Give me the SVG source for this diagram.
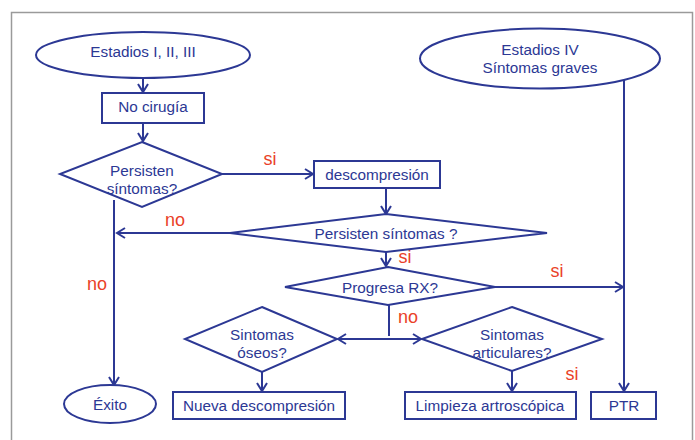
<svg xmlns="http://www.w3.org/2000/svg" width="695" height="440" viewBox="0 0 695 440">
<style>
.s{fill:#fff;stroke:#2c3894;stroke-width:2}
.t{font-family:"Liberation Sans",Arial,sans-serif;font-size:15.3px;fill:#2c3894;text-anchor:middle}
.r{font-family:"Liberation Sans",Arial,sans-serif;font-size:18px;fill:#ea4128;text-anchor:middle}
.c{fill:none;stroke:#2c3894;stroke-width:2}
</style>
<defs>
<marker id="a" markerUnits="userSpaceOnUse" markerWidth="12" markerHeight="14" refX="9" refY="6" orient="auto" viewBox="0 0 12 12">
<path d="M1,1 L9,6 L1,11" fill="none" stroke="#2c3894" stroke-width="2"/>
</marker>
</defs>
<rect x="0" y="0" width="695" height="440" fill="#fff"/>
<rect x="11.5" y="12.5" width="681" height="440" fill="#fff" stroke="#9a9a9a" stroke-width="1.5"/>
<g id="connectors">
<path class="c" d="M143,78 V92" marker-end="url(#a)"/>
<path class="c" d="M143,123 V141" marker-end="url(#a)"/>
<path class="c" d="M222,174 H313" marker-end="url(#a)"/>
<path class="c" d="M386,188 V214" marker-end="url(#a)"/>
<path class="c" d="M230,233 H117" marker-end="url(#a)"/>
<path class="c" d="M114,200 V385" marker-end="url(#a)"/>
<path class="c" d="M386,252 V266" marker-end="url(#a)"/>
<path class="c" d="M495,287 H623" marker-end="url(#a)"/>
<path class="c" d="M624,80 V391" marker-end="url(#a)"/>
<path class="c" d="M389,305 V336"/>
<path class="c" d="M380,339 H338" marker-end="url(#a)"/>
<path class="c" d="M380,339 H421" marker-end="url(#a)"/>
<path class="c" d="M262,372 V391" marker-end="url(#a)"/>
<path class="c" d="M512,371 V391" marker-end="url(#a)"/>
<text class="r" x="270" y="165">si</text>
<text class="r" x="175" y="226">no</text>
<text class="r" x="97" y="290">no</text>
<text class="r" x="405" y="263">si</text>
<text class="r" x="557" y="277">si</text>
<text class="r" x="408" y="323">no</text>
<text class="r" x="572" y="380">si</text>
</g>
<g id="n1"><ellipse class="s" cx="143" cy="55" rx="107" ry="23"/><text class="t" x="143" y="57">Estadios I, II, III</text></g>
<g id="n2"><ellipse class="s" cx="540" cy="58.5" rx="120" ry="30"/><text class="t" x="540" y="55">Estadios IV</text><text class="t" x="540" y="73">Síntomas graves</text></g>
<g id="n3"><rect class="s" x="102" y="93" width="102" height="30"/><text class="t" x="153" y="112">No cirugía</text></g>
<g id="n4"><polygon class="s" points="142,142 222,174 142,207 60,174"/><text class="t" x="142" y="176">Persisten</text><text class="t" x="142" y="194">síntomas?</text></g>
<g id="n5"><rect class="s" x="314" y="161" width="126" height="27"/><text class="t" x="377" y="180">descompresión</text></g>
<g id="n6"><polygon class="s" points="386,214 547,233 386,252 230,233"/><text class="t" x="386" y="239">Persisten síntomas ?</text></g>
<g id="n7"><polygon class="s" points="388,267 495,287 388,305 285,287"/><text class="t" x="390" y="293">Progresa RX?</text></g>
<g id="n8"><polygon class="s" points="262,307 337,339 262,372 185,339"/><text class="t" x="262" y="340">Sintomas</text><text class="t" x="262" y="358">óseos?</text></g>
<g id="n9"><polygon class="s" points="512,307 602,339 512,371 422,339"/><text class="t" x="512" y="340">Sintomas</text><text class="t" x="512" y="358">articulares?</text></g>
<g id="n10"><ellipse class="s" cx="110" cy="404" rx="46" ry="19"/><text class="t" x="110" y="410">Éxito</text></g>
<g id="n11"><rect class="s" x="173" y="392" width="172" height="27"/><text class="t" x="259" y="411">Nueva descompresión</text></g>
<g id="n12"><rect class="s" x="405" y="392" width="171" height="27"/><text class="t" x="490" y="411">Limpieza artroscópica</text></g>
<g id="n13"><rect class="s" x="591" y="392" width="65" height="27"/><text class="t" x="624" y="411">PTR</text></g>
</svg>
